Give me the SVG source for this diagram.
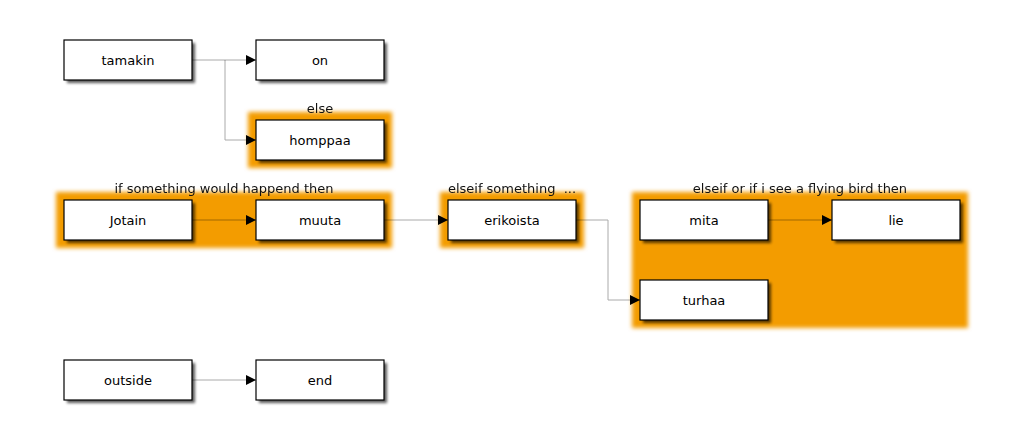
<svg xmlns="http://www.w3.org/2000/svg" width="1024" height="440" viewBox="0 0 1024 440">
<defs>
<filter id="blur" x="-10%" y="-10%" width="120%" height="120%"><feGaussianBlur stdDeviation="2"/></filter>
<filter id="sh" x="-10%" y="-20%" width="130%" height="150%"><feGaussianBlur stdDeviation="1.6"/></filter>
<marker id="arr" viewBox="0 0 10 10" refX="10" refY="5" markerWidth="10" markerHeight="10" markerUnits="userSpaceOnUse" orient="auto"><path d="M0,0 L10,5 L0,10 z" fill="#000"/></marker>
<style>
.grp{fill:#f39c05;filter:url(#blur)}
.shadow{fill:#000;opacity:0.65;filter:url(#sh)}
.box{fill:#fff;stroke:#000;stroke-width:1.2}
.t{font-family:"DejaVu Sans","Liberation Sans",sans-serif;font-size:13px;fill:#000;text-anchor:middle;dominant-baseline:central}
.lbl{font-family:"DejaVu Sans","Liberation Sans",sans-serif;font-size:13px;fill:#111;text-anchor:middle;white-space:pre}
.e{fill:none;stroke:#aaa;stroke-width:1;mix-blend-mode:multiply;marker-end:url(#arr)}
</style>
</defs>
<g id="groups">
<rect class="grp" x="248" y="112" width="144" height="56"/>
<text class="lbl" x="320" y="113">else</text>
<rect class="grp" x="56" y="192" width="336" height="56"/>
<text class="lbl" x="224" y="193">if something would happend then</text>
<rect class="grp" x="440" y="192" width="144" height="56"/>
<text class="lbl" x="512" y="193" xml:space="preserve">elseif something  ...</text>
<rect class="grp" x="632" y="192" width="336" height="136"/>
<text class="lbl" x="800" y="193">elseif or if i see a flying bird then</text>
</g>
<g id="connectors">
<path class="e" d="M192,60 H256"/>
<path class="e" d="M225,60 V140 H256"/>
<path class="e" d="M192,220 H256"/>
<path class="e" d="M384,220 H448"/>
<path class="e" d="M576,220 H608 V300 H640"/>
<path class="e" d="M768,220 H832"/>
<path class="e" d="M192,380 H256"/>
</g>
<g id="tamakin"><rect class="shadow" x="67" y="43" width="128" height="40"/><rect class="box" x="64" y="40" width="128" height="40"/><text class="t" x="128" y="60">tamakin</text></g>
<g id="on"><rect class="shadow" x="259" y="43" width="128" height="40"/><rect class="box" x="256" y="40" width="128" height="40"/><text class="t" x="320" y="60">on</text></g>
<g id="homppaa"><rect class="shadow" x="259" y="123" width="128" height="40"/><rect class="box" x="256" y="120" width="128" height="40"/><text class="t" x="320" y="140">homppaa</text></g>
<g id="Jotain"><rect class="shadow" x="67" y="203" width="128" height="40"/><rect class="box" x="64" y="200" width="128" height="40"/><text class="t" x="128" y="220">Jotain</text></g>
<g id="muuta"><rect class="shadow" x="259" y="203" width="128" height="40"/><rect class="box" x="256" y="200" width="128" height="40"/><text class="t" x="320" y="220">muuta</text></g>
<g id="erikoista"><rect class="shadow" x="451" y="203" width="128" height="40"/><rect class="box" x="448" y="200" width="128" height="40"/><text class="t" x="512" y="220">erikoista</text></g>
<g id="mita"><rect class="shadow" x="643" y="203" width="128" height="40"/><rect class="box" x="640" y="200" width="128" height="40"/><text class="t" x="704" y="220">mita</text></g>
<g id="lie"><rect class="shadow" x="835" y="203" width="128" height="40"/><rect class="box" x="832" y="200" width="128" height="40"/><text class="t" x="896" y="220">lie</text></g>
<g id="turhaa"><rect class="shadow" x="643" y="283" width="128" height="40"/><rect class="box" x="640" y="280" width="128" height="40"/><text class="t" x="704" y="300">turhaa</text></g>
<g id="outside"><rect class="shadow" x="67" y="363" width="128" height="40"/><rect class="box" x="64" y="360" width="128" height="40"/><text class="t" x="128" y="380">outside</text></g>
<g id="end"><rect class="shadow" x="259" y="363" width="128" height="40"/><rect class="box" x="256" y="360" width="128" height="40"/><text class="t" x="320" y="380">end</text></g>
</svg>
